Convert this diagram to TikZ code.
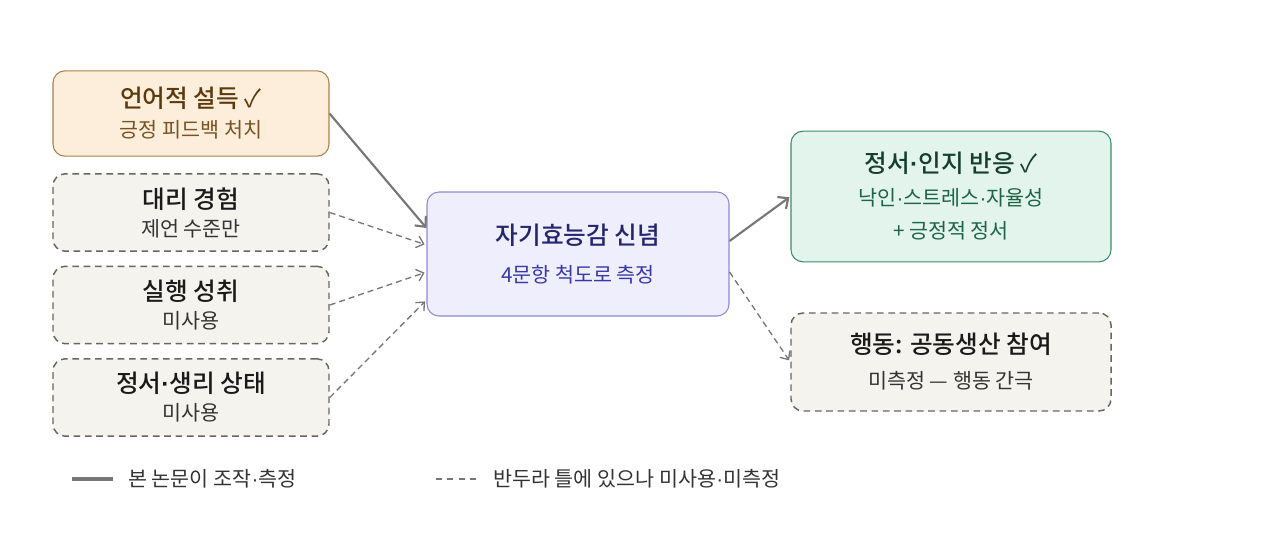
\documentclass[tikz,border=0pt]{standalone}
\usepackage{fontspec}
\setmainfont{Noto Sans CJK KR}[BoldFont={Noto Sans CJK KR Medium}]
\newfontfamily\latinf{Liberation Sans}
\usetikzlibrary{arrows.meta}

\definecolor{persuFill}{HTML}{FCEEDB}
\definecolor{persuDraw}{HTML}{A9824A}
\definecolor{persuText}{HTML}{5C3A0E}
\definecolor{persuSub}{HTML}{7B5220}
\definecolor{offFill}{HTML}{F4F3EE}
\definecolor{offDraw}{HTML}{666666}
\definecolor{offText}{HTML}{1A1A1A}
\definecolor{offSub}{HTML}{333333}
\definecolor{coreFill}{HTML}{EEEEFC}
\definecolor{coreDraw}{HTML}{8D89D6}
\definecolor{coreText}{HTML}{25256E}
\definecolor{coreSub}{HTML}{3838A8}
\definecolor{effFill}{HTML}{E2F4EC}
\definecolor{effDraw}{HTML}{3F8B6E}
\definecolor{effText}{HTML}{163F2C}
\definecolor{effSub}{HTML}{1C6446}
\definecolor{linkGray}{HTML}{777777}

\newcommand{\ttl}[1]{{\fontsize{18.5}{22}\selectfont\bfseries #1}}
\newcommand{\sbt}[1]{{\fontsize{15.5}{20}\selectfont #1}}
\newcommand{\md}{{\latinf ·}}
\newcommand{\chk}{{\mdseries ✓}}

\tikzset{
  box/.style={rounded corners=9pt, line width=0.8pt, align=center, inner sep=0pt},
  offbox/.style={box, draw=offDraw, fill=offFill, line width=1.1pt, dash pattern=on 5pt off 3.5pt,
    minimum width=207pt, minimum height=58pt, font=\fontsize{13}{21pt}\selectfont},
  usedlink/.style={draw=linkGray, line width=1.6pt, -{Straight Barb[length=6pt,width=11pt]}},
  unusedlink/.style={draw=linkGray, line width=1pt, dash pattern=on 4.5pt off 3pt,
    -{Straight Barb[length=5pt,width=9pt]}, shorten >=1.5pt}
}

\begin{document}
\begin{tikzpicture}[x=0.75pt, y=-0.75pt]
\useasboundingbox (0,0) rectangle (1280,533);

% sources
\node[box, draw=persuDraw, fill=persuFill, minimum width=207pt, minimum height=64pt,
  font=\fontsize{13}{22.5pt}\selectfont] (persu) at (191,113.5)
  {\color{persuText}\ttl{언어적 설득 \chk}\\\color{persuSub}\sbt{긍정 피드백 처치}};
\node[offbox] (vicar) at (191,212.5) {\color{offText}\ttl{대리 경험}\\\color{offSub}\sbt{제언 수준만}};
\node[offbox] (mastery) at (191,305) {\color{offText}\ttl{실행 성취}\\\color{offSub}\sbt{미사용}};
\node[offbox] (physio) at (191,397.5) {\color{offText}\ttl{정서\md 생리 상태}\\\color{offSub}\sbt{미사용}};

% belief
\node[box, draw=coreDraw, fill=coreFill, minimum width=226.5pt, minimum height=93pt,
  font=\fontsize{13}{28.5pt}\selectfont] (belief) at (578,254)
  {\color{coreText}\ttl{자기효능감 신념}\\\color{coreSub}\sbt{4문항 척도로 측정}};

% outcomes
\node[box, draw=effDraw, fill=effFill, minimum width=240pt, minimum height=98pt,
  font=\fontsize{13}{24.75pt}\selectfont] (affect) at (951,196.5)
  {\color{effText}\ttl{정서\md 인지 반응 \chk}\\\color{effSub}\sbt{낙인\md 스트레스\md 자율성}\\\color{effSub}\sbt{+ 긍정적 정서}};
\node[offbox, minimum width=240pt, minimum height=73.5pt, font=\fontsize{13}{26.25pt}\selectfont] (behave) at (951,362)
  {\color{offText}\ttl{행동: 공동생산 참여}\\\color{offSub}\sbt{미측정 — 행동 간극}};

% links
\draw[usedlink] (persu.east) -- ([yshift=19.5pt]belief.west);
\draw[unusedlink] (vicar.east) -- ([yshift=6.75pt]belief.west);
\draw[unusedlink] (mastery.east) -- ([yshift=-13.5pt]belief.west);
\draw[unusedlink] (physio.east) -- ([yshift=-34.5pt]belief.west);
\draw[usedlink, shorten >=1pt] ([yshift=9.75pt]belief.east) -- (affect.west);
\draw[unusedlink] ([yshift=-13.5pt]belief.east) -- (behave.west);

% legend
\coordinate (solidA) at (72,479);
\coordinate (solidB) at (113,479);
\coordinate (dashA) at (436,479);
\coordinate (dashB) at (480,479);
\draw[linkGray, line width=2.4pt] (solidA) -- (solidB);
\draw[linkGray, line width=1pt, dash pattern=on 4.5pt off 4pt] (dashA) -- (dashB);
\node[anchor=west, inner sep=0pt, text=offSub] (legUsed) at (128,479) {\sbt{본 논문이 조작\md 측정}};
\node[anchor=west, inner sep=0pt, text=offSub] (legUnused) at (493,479) {\sbt{반두라 틀에 있으나 미사용\md 미측정}};
\end{tikzpicture}
\end{document}
